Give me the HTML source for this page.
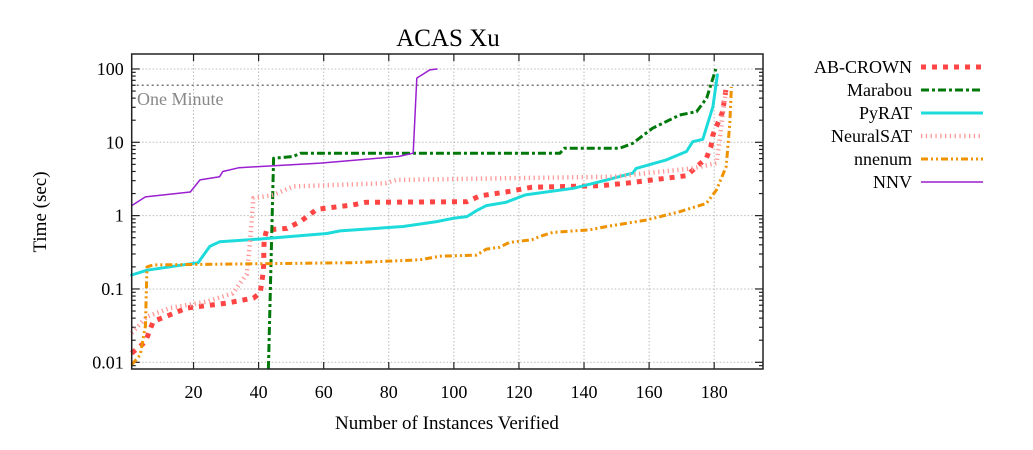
<!DOCTYPE html>
<html><head><meta charset="utf-8"><style>
body{margin:0;background:#fff;}
svg{display:block;font-family:"Liberation Serif",serif;}
</style></head><body>
<svg id="chart" width="1033" height="450" viewBox="0 0 1033 450">
<text x="448" y="46" text-anchor="middle" font-size="25">ACAS Xu</text>
<text x="447" y="429" text-anchor="middle" font-size="19">Number of Instances Verified</text>
<text transform="translate(46,212) rotate(-90)" text-anchor="middle" font-size="19">Time (sec)</text>
<g id="grid"></g><g id="ticks"></g><g id="series"></g><g id="legend"></g>
<rect x="131.7" y="54" width="631.3" height="315" fill="none" stroke="#222" stroke-width="1.5"/>
</svg>
<script>
const xTicks=[20,40,60,80,100,120,140,160,180];
const yTicks=[0.01,0.1,1,10,100];
const yTickLabels=["0.01","0.1","1","10","100"];
const oneMinute=60;
const abcrownX=[1,5.2,7.6,18,30,38.4,40.5,41.5,41.7,42.5,48.7,52.8,57.9,69,73,104,108,116,124,145,153,171.5,177.6,179,179.6,182.6,183.7];
const abcrownY=[0.0133,0.019,0.036,0.055,0.064,0.075,0.088,0.18,0.47,0.64,0.67,0.83,1.22,1.4,1.52,1.55,1.86,2.1,2.44,2.56,2.77,3.5,6.06,8.7,12.6,26,55];
const marabouX=[43,44.6,50.6,52.8,132.6,134,151,155,161,169.4,174.6,177.7,180.5];
const marabouY=[0.008,6.06,6.4,7.1,7.1,8.3,8.3,9.7,15.5,23.6,26.2,40,100];
const pyratX=[1,5.7,21.4,25,28,40.5,61,65,84.4,94.7,99.8,104,107,110,116,122,136.7,147,155,156,165,171.5,173.4,176.5,179.6,181];
const pyratY=[0.155,0.18,0.228,0.38,0.44,0.48,0.57,0.62,0.71,0.83,0.92,0.97,1.17,1.37,1.52,1.92,2.36,3.07,3.8,4.4,5.7,7.5,10.2,11,30.6,83];
const neuralsatX=[1,5.7,12.8,24,32,36.4,37.4,38.4,44.5,50.7,79,82.4,149,173.4,180.7,181.7,182.6,183.7];
const neuralsatY=[0.025,0.042,0.055,0.067,0.087,0.16,0.47,1.73,1.92,2.5,2.77,3.07,3.4,4.4,5.2,10.8,23.6,52];
const nnenumX=[1,3.6,5.2,5.7,7.6,38.4,69,89.6,95.7,107,110,114,117,124,126.4,130.4,141.8,147,159,169.4,177.6,180.7,183.7,184.8,185.3];
const nnenumY=[0.0093,0.0126,0.031,0.2,0.213,0.22,0.228,0.25,0.28,0.29,0.35,0.37,0.43,0.47,0.52,0.59,0.64,0.71,0.87,1.13,1.47,2.24,4.66,18.2,57];
const nnvX=[1,5.2,19,22,28,29,34,59,83,87.5,88.6,92.6,94.8];
const nnvY=[1.37,1.8,2.1,3.07,3.4,4.0,4.5,5.2,6.4,7.1,75,97,100];

const NS="http://www.w3.org/2000/svg";
const L=131.7,R=763,T=54,B=369,xmin=1,xmax=195;
const ymin=0.0081,ymax=160;
const sx=v=>L+(v-xmin)/(xmax-xmin)*(R-L);
const sy=v=>B-(Math.log10(v)-Math.log10(ymin))/(Math.log10(ymax)-Math.log10(ymin))*(B-T);
function mk(tag,attrs,parent){const e=document.createElementNS(NS,tag);for(const k in attrs)e.setAttribute(k,attrs[k]);parent.appendChild(e);return e;}
const grid=document.getElementById('grid'),ticks=document.getElementById('ticks'),ser=document.getElementById('series'),leg=document.getElementById('legend');
xTicks.forEach(v=>{
  const g=mk('line',{x1:sx(v),x2:sx(v),y1:T,y2:B,stroke:'#bbb','stroke-width':1,'stroke-dasharray':'1.5 2'},grid);
  
  
  mk('line',{x1:sx(v),x2:sx(v),y1:B,y2:B-7,stroke:'#222','stroke-width':1.2},ticks);
  mk('line',{x1:sx(v),x2:sx(v),y1:T,y2:T+7,stroke:'#222','stroke-width':1.2},ticks);
  const t=mk('text',{x:sx(v),y:B+29,'text-anchor':'middle','font-size':18},ticks);
  t.textContent=v;
  
  
});
yTicks.forEach((v,i)=>{
  const g=mk('line',{x1:L,x2:R,y1:sy(v),y2:sy(v),stroke:'#bbb','stroke-width':1,'stroke-dasharray':'1.5 2'},grid);
  
  
  const t=mk('text',{x:L-8,y:sy(v)+6,'text-anchor':'end','font-size':18},ticks);
  t.textContent=yTickLabels[i];
  
  
});
for(let d=0.001;d<1000;d*=10){for(let m=1;m<10;m++){const v=d*m;if(v<ymin||v>ymax)continue;const len=m===1?8:4;
  mk('line',{x1:L,x2:L+len,y1:sy(v),y2:sy(v),stroke:'#222','stroke-width':1.2},ticks);
  mk('line',{x1:R,x2:R-len,y1:sy(v),y2:sy(v),stroke:'#222','stroke-width':1.2},ticks);}}
const om=mk('line',{x1:L,x2:R,y1:sy(oneMinute),y2:sy(oneMinute),stroke:'#777','stroke-width':1.5,'stroke-dasharray':'2 3'},grid);


const omt=mk('text',{x:137,y:105,'font-size':18,fill:'#888'},grid);
omt.textContent='One Minute';


const series=[
 {n:'AB-CROWN',x:abcrownX,y:abcrownY,c:'#f44',w:5,d:'5 6',cap:'butt'},
 {n:'Marabou',x:marabouX,y:marabouY,c:'#00780a',w:3,d:'8 3 3 3',cap:'butt'},
 {n:'PyRAT',x:pyratX,y:pyratY,c:'#1ddbdb',w:3,d:'',cap:'round'},
 {n:'NeuralSAT',x:neuralsatX,y:neuralsatY,c:'#ff9a9a',w:4.5,d:'1.3 3.5',cap:'butt'},
 {n:'nnenum',x:nnenumX,y:nnenumY,c:'#ee9200',w:3,d:'7 3 2 3 2 3',cap:'butt'},
 {n:'NNV',x:nnvX,y:nnvY,c:'#9a1fd0',w:1.5,d:'',cap:'round'}];
series.forEach((s,i)=>{
  const pts=s.x.map((v,j)=>sx(v).toFixed(1)+','+sy(Math.max(s.y[j],ymin)).toFixed(1)).join(' ');
  const p=mk('polyline',{points:pts,fill:'none',stroke:s.c,'stroke-width':s.w,'stroke-linejoin':'round','stroke-linecap':s.cap},ser);
  if(s.d)p.setAttribute('stroke-dasharray',s.d);
  
  
  const ly=67+i*23;
  const g=mk('g',{},leg);
  
  
  const t=mk('text',{x:912,y:ly+6,'text-anchor':'end','font-size':18},g);
  t.textContent=s.n;
  const l=mk('line',{x1:921,x2:983,y1:ly,y2:ly,stroke:s.c,'stroke-width':s.w},g);
  if(s.d)l.setAttribute('stroke-dasharray',s.d);
});
</script>
</body></html>
